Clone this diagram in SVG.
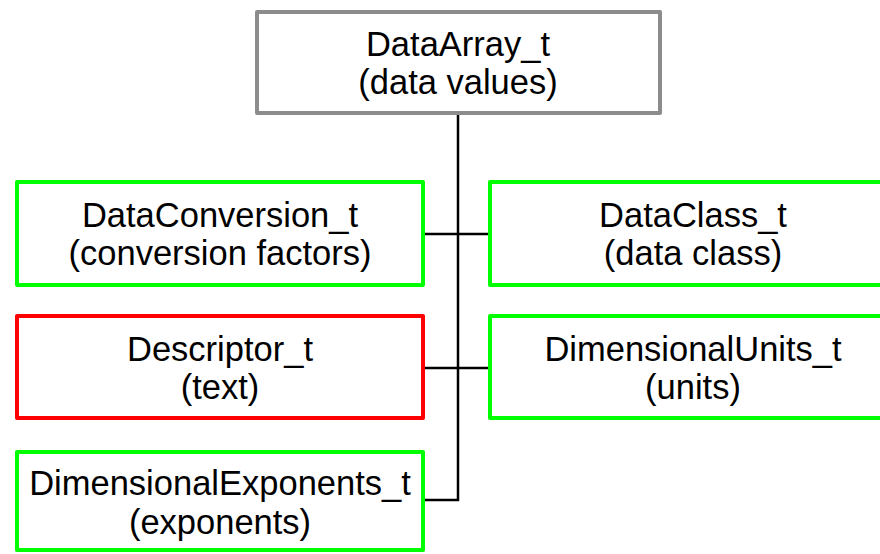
<svg xmlns="http://www.w3.org/2000/svg" width="880" height="554" viewBox="0 0 880 554">
<style>
.box{fill:#fff;stroke-width:4;stroke-linejoin:round}
.g{stroke:#00ff00}
.r{stroke:#ff0000}
.gr{stroke:#8c8c8c}
text{font-family:"Liberation Sans",Arial,sans-serif;font-size:34.5px;fill:#000;text-anchor:middle}
.conn{stroke:#000;stroke-width:2.5;fill:none}
</style>
<rect width="880" height="554" fill="#fff"/>
<g id="connectors">
<path class="conn" d="M458,115 V500 H425"/>
<path class="conn" d="M425,234 H488"/>
<path class="conn" d="M425,368 H488"/>
</g>
<g id="DataArray">
<rect class="box gr" x="257" y="12" width="403" height="101"/>
<text x="458" y="56">DataArray_t</text>
<text x="458" y="94">(data values)</text>
</g>
<g id="DataConversion">
<rect class="box g" x="17" y="182" width="406" height="103"/>
<text x="220" y="227">DataConversion_t</text>
<text x="220" y="265">(conversion factors)</text>
</g>
<g id="DataClass">
<rect class="box g" x="490" y="182" width="406" height="103"/>
<text x="693" y="227">DataClass_t</text>
<text x="693" y="265">(data class)</text>
</g>
<g id="Descriptor">
<rect class="box r" x="17" y="316" width="406" height="102"/>
<text x="220" y="361">Descriptor_t</text>
<text x="220" y="399">(text)</text>
</g>
<g id="DimensionalUnits">
<rect class="box g" x="490" y="316" width="406" height="102"/>
<text x="693" y="361">DimensionalUnits_t</text>
<text x="693" y="399">(units)</text>
</g>
<g id="DimensionalExponents">
<rect class="box g" x="17" y="452" width="406" height="98"/>
<text x="220" y="495">DimensionalExponents_t</text>
<text x="220" y="534">(exponents)</text>
</g>
</svg>
